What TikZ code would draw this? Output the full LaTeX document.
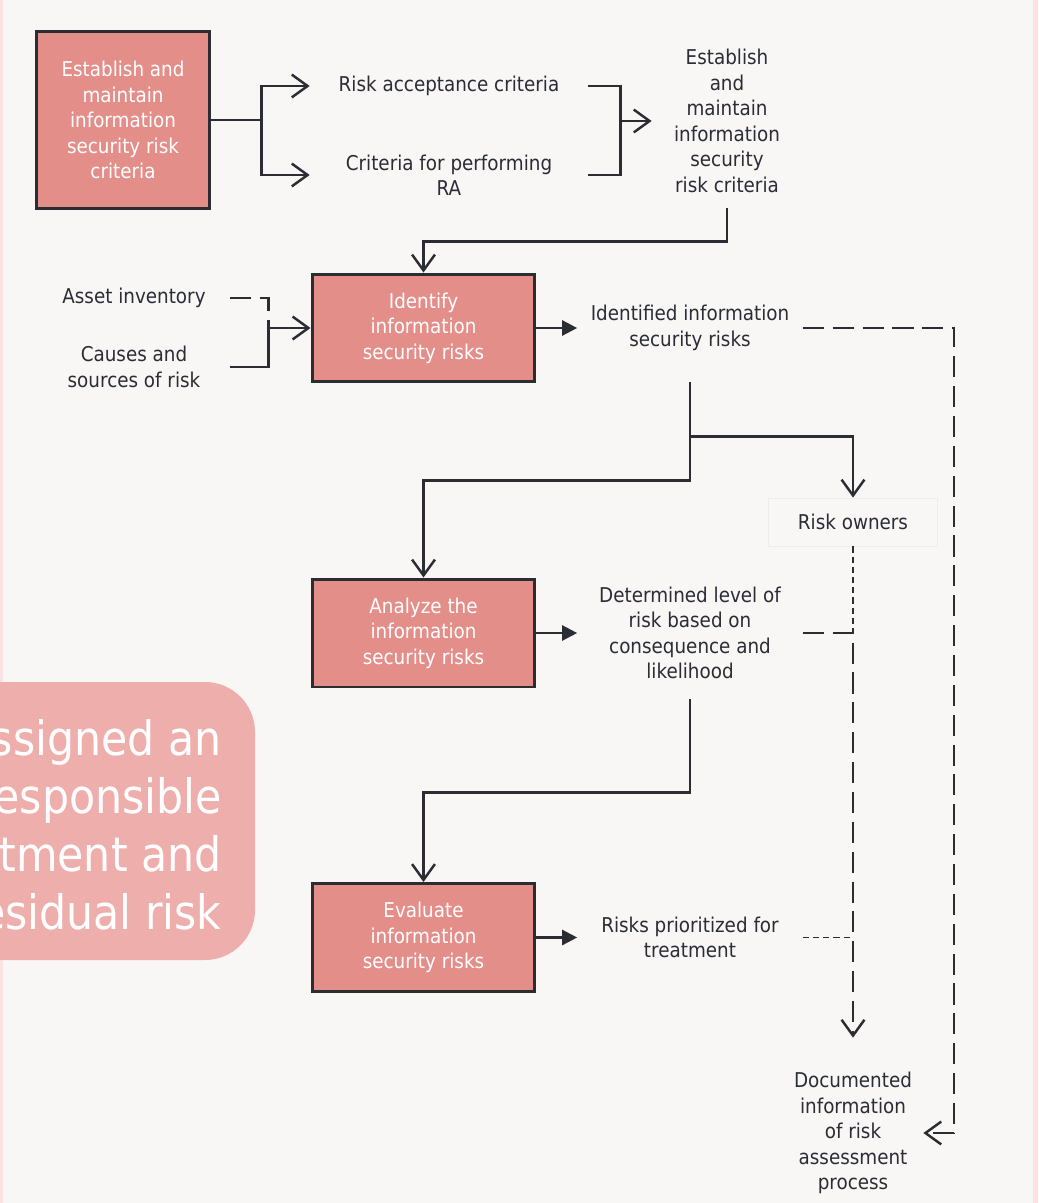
\documentclass[tikz,border=0pt]{standalone}
\usepackage{fontspec}
\setmainfont{DejaVu Sans}[FakeStretch=0.9]
\usepackage{xcolor}
\usetikzlibrary{arrows.meta, positioning, calc}
\definecolor{notebg}{HTML}{F8F7F6}
\definecolor{boxred}{HTML}{E48E8A}
\definecolor{boxline}{HTML}{2B2D33}
\definecolor{inktext}{HTML}{2B2D35}
\definecolor{notepink}{HTML}{EEAFAC}
\definecolor{edgepink}{HTML}{FBE3E3}
\definecolor{ownerline}{HTML}{EDEDED}

\tikzset{
  stepbox/.style={draw=boxline, line width=1.7pt, fill=boxred, text=white,
    align=center, minimum width=4.46cm, minimum height=2.16cm, inner sep=0pt,
    font=\fontsize{11.6}{14.5}\selectfont},
  plain/.style={text=inktext, align=center, inner sep=0pt,
    font=\fontsize{11.6}{14.5}\selectfont},
  flow/.style={draw=boxline, line width=1.4pt},
  thinflow/.style={draw=boxline, line width=0.7pt, dash pattern=on 3.5pt off 2.3pt},
  dashline/.style={dash pattern=on 12pt off 5pt},
  openarr/.style={-{Straight Barb[length=9pt,width=13pt,line width=1.4pt]}},
  solidarr/.style={-{Triangle[length=8.5pt,width=8.5pt]}}
}

\begin{document}
\begin{tikzpicture}[x=0.02cm, y=-0.02cm]
  \useasboundingbox (0,0) rectangle (1038,1203);
  \fill[notebg] (0,0) rectangle (1038,1203);
  \fill[edgepink] (0,0) rectangle (3,1203);
  \fill[edgepink] (1033,0) rectangle (1038,1203);

  % note bubble, cut at the left edge
  \fill[notepink, rounded corners=1cm] (-80,682) rectangle (255,960);
  \node[anchor=east, align=right, text=white, inner sep=0pt,
    font=\fontsize{27}{32.9}\selectfont] (note) at (222,825)
    {assigned an\\responsible\\treatment and\\residual risk};

  % criteria
  \node[stepbox, minimum width=3.48cm, minimum height=3.56cm] (crit) at (123,120)
    {Establish and\\maintain\\information\\security risk\\criteria};
  \node[plain, minimum width=5.56cm] (accept) at (449,86) {Risk acceptance criteria};
  \node[plain, minimum width=5.56cm] (perform) at (449,175) {Criteria for performing\\RA};
  \node[plain, minimum width=3cm, minimum height=3.48cm] (estab) at (727,121)
    {Establish\\and\\maintain\\information\\security\\risk criteria};

  % steps
  \node[stepbox] (identify) at (423.5,328) {Identify\\information\\security risks};
  \node[stepbox] (analyze) at (423.5,633) {Analyze the\\information\\security risks};
  \node[stepbox] (evaluate) at (423.5,937.5) {Evaluate\\information\\security risks};

  % inputs and outputs
  \node[plain, minimum width=3.84cm] (asset) at (134,298) {Asset inventory};
  \node[plain, minimum width=3.84cm] (causes) at (134,367) {Causes and\\sources of risk};
  \node[plain, minimum width=4.5cm, minimum height=2.16cm] (identified) at (690,328)
    {Identified information\\security risks};
  \node[plain, minimum width=4.5cm, minimum height=2.64cm] (level) at (690,633)
    {Determined level of\\risk based on\\consequence and\\likelihood};
  \node[plain, minimum width=4.5cm, minimum height=2.16cm] (prior) at (690,937.5)
    {Risks prioritized for\\treatment};
  \node[plain, draw=ownerline, line width=0.5pt, minimum width=3.38cm,
    minimum height=0.96cm] (owners) at (853,522) {Risk owners};
  \node[plain, minimum width=2.8cm, minimum height=3.8cm] (docs) at (853,1133)
    {Documented\\information\\of risk\\assessment\\process};

  \coordinate (brk) at ($(accept.east)+(32,0)$);
  \coordinate (merge) at ($(identify.west)+(-42,0)$);
  \coordinate (ownjoin) at (owners.south |- level.east);

  % connectors
  \draw[flow, openarr] (crit.east) -- ++(50,0) |- (accept.west);
  \draw[flow, openarr] (crit.east) -- ++(50,0) |- (perform.west);
  \draw[flow] (accept.east) -- (brk) |- (perform.east);
  \draw[flow, openarr] (brk |- estab.west) -- (estab.west);
  \draw[flow, openarr] (estab.south) -- ++(0,33) -| (identify.north);

  \draw[flow, dashline] (asset.east) -| (merge);
  \draw[flow] (causes.east) -| (merge);
  \draw[flow, openarr] (merge) -- (identify.west);

  \draw[flow, solidarr] (identify.east) -- (identified.west);
  \draw[flow, solidarr] (analyze.east) -- (level.west);
  \draw[flow, solidarr] (evaluate.east) -- (prior.west);

  \draw[flow, openarr] (identified.south) -- ++(0,98) -| (analyze.north);
  \draw[flow, openarr] (identified.south) -- ++(0,54) -| (owners.north);
  \draw[flow, openarr] (level.south) -- ++(0,93) -| (evaluate.north);

  % documented information
  \draw[flow, dashline, openarr] (identified.east) -- ++(151,0) |- (docs.east);
  \draw[thinflow] (owners.south) -- (ownjoin);
  \draw[flow, dashline, openarr] (level.east) -- (ownjoin) -- (docs.north);
  \draw[thinflow] (prior.east) -- (prior.east -| ownjoin);
\end{tikzpicture}
\end{document}
